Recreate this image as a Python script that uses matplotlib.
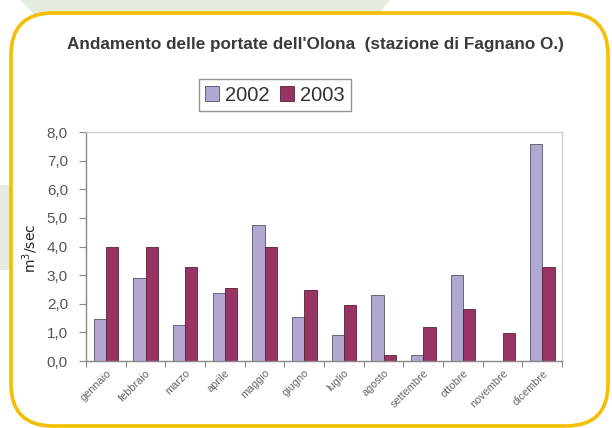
import matplotlib
matplotlib.use('Agg')
import matplotlib.pyplot as plt
import matplotlib.patches as mpatches
import numpy as np

# dati (m3/sec)
mesi = ['gennaio', 'febbraio', 'marzo', 'aprile', 'maggio', 'giugno',
        'luglio', 'agosto', 'settembre', 'ottobre', 'novembre', 'dicembre']
portate_2002 = [1.47, 2.9, 1.25, 2.37, 4.75, 1.53, 0.92, 2.3, 0.21, 3.0, 0.0, 7.58]
portate_2003 = [4.0, 4.0, 3.3, 2.55, 4.0, 2.47, 1.97, 0.2, 1.2, 1.8, 0.98, 3.28]
y_ticks = [0, 1, 2, 3, 4, 5, 6, 7, 8]

col_2002 = '#b2a7d0'
col_2003 = '#983463'
col_giallo = '#f4bf00'

plt.rcParams['font.family'] = ['Liberation Sans', 'DejaVu Sans']

fig = plt.figure(figsize=(6.12, 4.28), dpi=100)

# sfondo con cornice arrotondata
bg = fig.add_axes([0, 0, 1, 1], zorder=-1)
bg.set_xlim(0, 612)
bg.set_ylim(428, 0)
bg.axis('off')
bg.add_patch(mpatches.Polygon([(20, 0), (390, 0), (378, 14), (34, 14)],
                              closed=True, color='#e4ecdf', lw=0))
bg.add_patch(mpatches.Rectangle((0, 185), 10, 85, color='#e4ecdf', lw=0))
bg.add_patch(mpatches.FancyBboxPatch((11, 13), 597, 413,
                                     boxstyle='round,pad=0,rounding_size=42',
                                     facecolor='white', edgecolor=col_giallo, lw=2.6))

fig.text(0.515, 0.895, "Andamento delle portate dell'Olona  (stazione di Fagnano O.)",
         ha='center', va='center', fontsize=12.3, fontweight='bold', color='#3a3a3a')

ax = fig.add_axes([0.1405, 0.1565, 0.778, 0.535])
x = np.arange(len(mesi)) + 0.5
w = 0.31
b1 = ax.bar(x - w / 2, portate_2002, w, color=col_2002, edgecolor='#55506a', lw=0.6, label='2002')
b2 = ax.bar(x + w / 2, portate_2003, w, color=col_2003, edgecolor='#5a2038', lw=0.6, label='2003')

ax.set_xlim(0, 12)
ax.set_ylim(0, 8)
ax.set_yticks(y_ticks)
ax.set_yticklabels([f'{v:.1f}'.replace('.', ',') for v in y_ticks], fontsize=11, color='#555555')
ax.set_xticks(np.arange(13))
ax.set_xticklabels([])
ax.set_xticks(x, minor=True)
ax.set_xticklabels(mesi, minor=True, rotation=45, ha='right', rotation_mode='anchor',
                   fontsize=7.8, color='#666666')
ax.tick_params(axis='x', which='minor', length=0, pad=5)
ax.tick_params(axis='x', which='major', length=4, color='#888888', direction='out')
ax.tick_params(axis='y', length=5, color='#888888', direction='out', pad=8)

for s in ['top', 'right']:
    ax.spines[s].set_color('#cccccc')
    ax.spines[s].set_linewidth(1.0)
for s in ['left', 'bottom']:
    ax.spines[s].set_color('#888888')
    ax.spines[s].set_linewidth(1.0)

fig.text(0.05, 0.42, 'm$^3$/sec', rotation=90, ha='center', va='center',
         fontsize=10, color='#222222', family='DejaVu Sans')

leg = fig.legend(handles=[b1, b2], loc='center', bbox_to_anchor=(0.449, 0.778),
                 ncol=2, fontsize=14.5, frameon=True, fancybox=False,
                 handlelength=0.7, handleheight=0.7, handletextpad=0.3,
                 columnspacing=0.5, borderpad=0.3)
leg.get_frame().set_edgecolor('#777777')
leg.get_frame().set_linewidth(1.0)
for t in leg.get_texts():
    t.set_color('#333333')

fig.savefig('out.png', dpi=100)
